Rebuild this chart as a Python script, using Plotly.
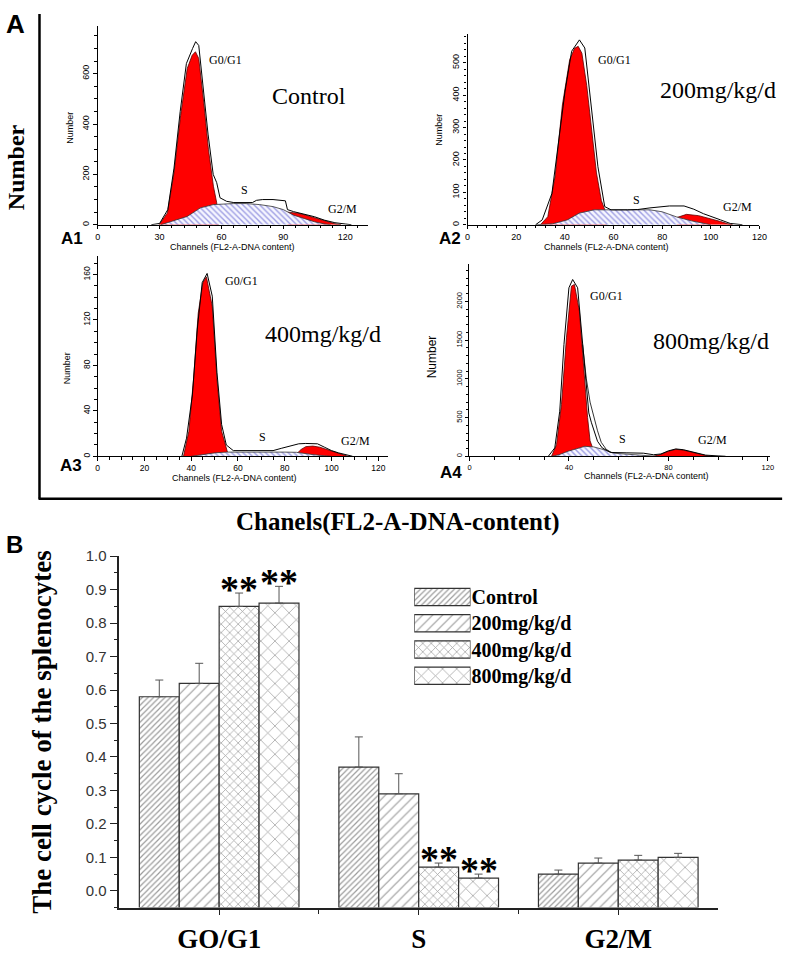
import plotly.graph_objects as go

W, H = 800, 961
SERIF = "Liberation Serif"
SANS = "Liberation Sans"


def fx(p):
    return p / W


def fy(p):
    return 1 - p / H


# ---------------- Panel A data ----------------
# A1  Control
a1_total_x = [26, 30, 34, 37, 40, 43, 46, 47.5, 49, 51, 53.5, 56, 57.7, 59.3, 62.5, 66, 70, 75, 77, 80, 85, 89.5, 91, 92, 95, 100, 105, 110, 115, 120, 123]
a1_total_y = [0, 5, 60, 225, 450, 640, 700, 727, 712, 560, 360, 200, 167, 107, 93, 88, 87, 88, 97, 100, 100, 97, 95, 60, 52, 42, 32, 18, 8, 3, 0]
a1_g1_x = [29.8, 33.8, 37, 40.2, 43.4, 45.8, 47.4, 49, 51.4, 53.7, 56.1, 57.7, 58.5]
a1_g1_y = [0, 47, 207, 433, 620, 673, 687, 660, 487, 300, 153, 87, 0]
a1_s_x = [30.6, 37, 43.4, 49.8, 56.1, 65.7, 72, 78.5, 85, 90, 95, 100, 105, 110, 113]
a1_s_y = [0, 15, 33, 67, 80, 84, 84, 80, 72, 60, 38, 25, 12, 3, 0]
a1_g2_x = [92, 94, 97, 100, 105, 110, 115, 118]
a1_g2_y = [50, 48, 46, 40, 28, 14, 4, 0]

# A2  200 mg/kg/d
a2_total_x = [28, 30.7, 34.7, 37.4, 40.1, 42.8, 46, 48.2, 50.9, 53.6, 56.4, 59, 65.8, 70, 75, 80, 83, 89, 93, 97, 100, 104, 108, 113]
a2_total_y = [0, 15, 97, 260, 413, 536, 571, 546, 362, 179, 56, 46, 46, 47, 52, 56, 58, 58, 48, 34, 25, 15, 4, 0]
a2_g1_x = [30, 33, 36, 39, 42, 44, 45.5, 47, 49, 51, 53, 55, 56.5, 57]
a2_g1_y = [0, 25, 150, 370, 510, 545, 551, 530, 430, 290, 160, 75, 45, 0]
a2_s_x = [28, 35, 41, 46, 52, 75, 80, 86, 92, 97, 100]
a2_s_y = [0, 3, 15, 36, 46, 46, 40, 24, 12, 4, 0]
a2_g2_x = [86, 88, 90, 95, 100, 104, 107, 109]
a2_g2_y = [22, 28, 32, 28, 19, 10, 3, 0]

# A3  400 mg/kg/d
a3_total_x = [36, 38, 40.5, 42.6, 44.7, 46.8, 49, 51, 53, 55, 58, 75, 78.5, 82, 86, 89, 94, 97, 100, 103, 106, 109]
a3_total_y = [0, 16, 54, 112, 153, 161, 141, 74, 28, 10, 5, 5, 7, 9, 11, 11.3, 11, 8, 5, 3, 1.7, 0]
a3_g1_x = [36.7, 39, 41, 43, 45, 46.5, 49, 51, 53, 54.6, 56]
a3_g1_y = [0, 22, 68, 126, 153, 158, 132, 68, 22, 10, 0]
a3_s_x = [40, 45, 50, 55, 60, 70, 80, 85, 88, 92, 97, 100]
a3_s_y = [0, 1.5, 3, 3.7, 3.8, 3.8, 3.7, 3.5, 2.5, 1.5, 0.5, 0]
a3_g2_x = [84, 87, 89, 92, 95, 98, 101, 104, 107]
a3_g2_y = [0, 6, 8.5, 9, 8, 6, 3.5, 1.5, 0]

# A4  800 mg/kg/d
a4_total_x = [31.7, 34.3, 36.3, 38, 40, 41.5, 43.5, 45.5, 47, 48, 49, 50, 51.5, 53.4, 56.7, 63, 70, 74, 77, 80, 83, 86, 89, 92, 95, 100, 103]
a4_total_y = [0, 108, 582, 1444, 2177, 2284, 2177, 1444, 900, 560, 440, 330, 194, 108, 50, 45, 40, 20, 30, 70, 95, 85, 60, 35, 15, 5, 0]
a4_total2_x = [45.5, 47, 48.5, 50, 51.5, 53, 55, 57]
a4_total2_y = [1444, 1000, 700, 500, 330, 180, 90, 50]
a4_g1_x = [33, 35, 37, 39, 41, 42.2, 44.2, 46, 47.5, 48.5, 49.5, 50]
a4_g1_y = [0, 150, 668, 1530, 2198, 2220, 1875, 1100, 500, 200, 110, 0]
a4_s_x = [33, 36, 39.6, 44.9, 46.4, 50, 54, 58, 63, 71, 75]
a4_s_y = [0, 20, 65, 116, 129, 121, 86, 40, 30, 13, 0]
a4_g2_x = [74, 77, 80, 83, 86, 89, 92, 95, 97]
a4_g2_y = [0, 25, 65, 90, 80, 55, 30, 10, 0]

# ---------------- Panel B data ----------------
categories = ["GO/G1", "S", "G2/M"]
groups = ["Control", "200mg/kg/d", "400mg/kg/d", "800mg/kg/d"]
control = [0.58, 0.37, 0.05]
control_err = [0.05, 0.09, 0.012]
dose200 = [0.62, 0.29, 0.083]
dose200_err = [0.06, 0.06, 0.015]
dose400 = [0.85, 0.071, 0.092]
dose400_err = [0.04, 0.012, 0.014]
dose800 = [0.86, 0.038, 0.10]
dose800_err = [0.05, 0.012, 0.012]
significant = [(2, 0), (3, 0), (2, 1), (3, 1)]  # (group, category)

pattern_shapes = ["/", "/", "x", "x"]
pattern_sizes = [4, 7, 6, 10]
pattern_solid = [0.3, 0.17, 0.22, 0.14]

fig = go.Figure()

RED = "#ff0000"
HATCH = dict(shape="\\", fgcolor="#4646c8", bgcolor="#f6f6ff", size=4, solidity=0.35)

panels = [
    ("", a1_g1_x, a1_g1_y, a1_g2_x, a1_g2_y, a1_s_x, a1_s_y, a1_total_x, a1_total_y),
    ("2", a2_g1_x, a2_g1_y, a2_g2_x, a2_g2_y, a2_s_x, a2_s_y, a2_total_x, a2_total_y),
    ("3", a3_g1_x, a3_g1_y, a3_g2_x, a3_g2_y, a3_s_x, a3_s_y, a3_total_x, a3_total_y),
    ("4", a4_g1_x, a4_g1_y, a4_g2_x, a4_g2_y, a4_s_x, a4_s_y, a4_total_x, a4_total_y),
]
for k, g1x, g1y, g2x, g2y, sx, sy, tx, ty in panels:
    xa, ya = "x" + k, "y" + k
    fig.add_trace(go.Scatter(x=g1x, y=g1y, mode="lines", fill="tozeroy", fillcolor=RED,
                             line=dict(color="#5a0000", width=0.8), xaxis=xa, yaxis=ya, showlegend=False))
    fig.add_trace(go.Scatter(x=g2x, y=g2y, mode="lines", fill="tozeroy", fillcolor=RED,
                             line=dict(color="#5a0000", width=0.8), xaxis=xa, yaxis=ya, showlegend=False))
    fig.add_trace(go.Scatter(x=sx, y=sy, mode="lines", fill="tozeroy", fillpattern=HATCH,
                             line=dict(color="#333333", width=0.8), xaxis=xa, yaxis=ya, showlegend=False))
    fig.add_trace(go.Scatter(x=tx, y=ty, mode="lines", line=dict(color="black", width=1),
                             xaxis=xa, yaxis=ya, showlegend=False))
fig.add_trace(go.Scatter(x=a4_total2_x, y=a4_total2_y, mode="lines", line=dict(color="black", width=0.8),
                         xaxis="x4", yaxis="y4", showlegend=False))

# ---------------- Panel B bars ----------------
series = [(control, control_err), (dose200, dose200_err), (dose400, dose400_err), (dose800, dose800_err)]
AX_BOTTOM = -0.05
cat_idx = list(range(len(categories)))
for g, (vals, errs) in enumerate(series):
    fig.add_trace(go.Bar(
        x=cat_idx, y=[v - AX_BOTTOM for v in vals], base=AX_BOTTOM, name=groups[g],
        marker=dict(color="white", line=dict(color="#333333", width=1.2),
                    pattern=dict(shape=pattern_shapes[g], size=pattern_sizes[g], solidity=pattern_solid[g],
                                 fgcolor="#3a3a3a", bgcolor="white")),
        error_y=dict(type="data", array=errs, arrayminus=[0] * len(errs), symmetric=False,
                     color="#555555", thickness=1, width=4),
        xaxis="x5", yaxis="y5", showlegend=False))

# legend drawn as swatches on its own small axis
fig.add_trace(go.Bar(
    x=[1] * len(groups), y=list(range(len(groups))), orientation="h", width=0.66,
    marker=dict(color="white", line=dict(color="#333333", width=1.2),
                pattern=dict(shape=pattern_shapes, size=pattern_sizes, solidity=pattern_solid,
                             fgcolor="#3a3a3a", bgcolor="white")),
    xaxis="x6", yaxis="y6", showlegend=False, hoverinfo="skip"))


def hist_axes(k, xdom, ydom, xr, yr, xdt, xmin, ydt, ymin, fs=9):
    common = dict(showline=True, linecolor="black", linewidth=1.2, ticks="outside", ticklen=3.5,
                  tickwidth=1, tickcolor="black", showgrid=False, zeroline=False, tick0=0,
                  tickfont=dict(family=SANS, size=fs, color="black"), fixedrange=True)
    xa = dict(common, domain=xdom, range=xr, anchor="y" + k, dtick=xdt,
              minor=dict(tick0=0, dtick=xmin, ticks="outside", ticklen=2.5, tickcolor="black"))
    ya = dict(common, domain=ydom, range=yr, anchor="x" + k, dtick=ydt, tickangle=-90,
              minor=dict(tick0=0, dtick=ymin, ticks="outside", ticklen=2.5, tickcolor="black"))
    return xa, ya


ax = {}
ax["xaxis"], ax["yaxis"] = hist_axes("", [fx(96), fx(370)], [fy(218), fy(17)], [0, 131], [0, 790], 30, 6, 200, 50)
ax["xaxis2"], ax["yaxis2"] = hist_axes("2", [fx(471), fx(767)], [fy(218), fy(25)], [0, 120], [0, 590], 20, 4, 100, 20)
ax["xaxis3"], ax["yaxis3"] = hist_axes("3", [fx(96), fx(390)], [fy(452), fy(250)], [0, 124], [0, 176], 20, 5, 40, 10, fs=8.5)
ax["xaxis4"], ax["yaxis4"] = hist_axes("4", [fx(473), fx(778)], [fy(452), fy(258)], [0, 121], [0, 2480], 40, 10, 500, 100, fs=7.5)

B_BOTTOM, B_TOP = 908, 553
ax["xaxis5"] = dict(domain=[fx(118), fx(725)], range=[-0.5, 2.5], anchor="y5", showline=True, linecolor="#222",
                    linewidth=1.5, tickmode="array", tickvals=cat_idx, ticktext=categories, ticks="outside",
                    ticklen=6, tickcolor="#222", showgrid=False, zeroline=False,
                    tickfont=dict(family=SERIF, size=27, color="black", weight="bold"),
                    minor=dict(tickmode="array", tickvals=[0.5, 1.5], ticks="outside", ticklen=5, tickcolor="#222"),
                    fixedrange=True)
ax["yaxis5"] = dict(domain=[fy(B_BOTTOM), fy(B_TOP)], range=[AX_BOTTOM, 1.0], anchor="x5", showline=True,
                    linecolor="#222", linewidth=1.5, tick0=0, dtick=0.1, tickformat=".1f", ticks="outside",
                    ticklen=8, tickcolor="#222", showgrid=False, zeroline=False,
                    tickfont=dict(family=SANS, size=15, color="#333"),
                    minor=dict(tick0=0, dtick=0.05, ticks="outside", ticklen=4, tickcolor="#222"),
                    fixedrange=True)
ax["xaxis6"] = dict(domain=[fx(417), fx(474)], range=[0, 1], anchor="y6", visible=False, fixedrange=True)
ax["yaxis6"] = dict(domain=[fy(687), fy(581)], range=[len(groups) - 0.5, -0.5], anchor="x6", side="right",
                    tickmode="array", tickvals=list(range(len(groups))), ticktext=groups, ticks="",
                    showline=False, showgrid=False, zeroline=False,
                    tickfont=dict(family=SERIF, size=20, color="black", weight="bold"), fixedrange=True)

ann = []


def txt(x, y, s, size, family=SERIF, bold=False, angle=0, color="black"):
    ann.append(dict(x=fx(x), y=fy(y), xref="paper", yref="paper", text=s, showarrow=False,
                    textangle=angle, xanchor="center", yanchor="middle",
                    font=dict(family=family, size=size, color=color, weight="bold" if bold else "normal")))


# panel A global labels
txt(13, 15, "A", 26, SANS, True)
txt(14, 160, "Number", 24, SERIF, True, -90)
txt(401, 518, "Chanels(FL2-A-DNA-content)", 25, SERIF, True)
txt(12, 541, "B", 24, SANS, True)

# sub-panel labels
sub = [
    ((226, 52), "Control", (310, 88), (245, 183), (344, 202), "A1", (70, 232), (233, 240), (68, 120), 9),
    ((620, 52), "200mg/kg/d", (725, 82), (642, 193), (745, 200), "A2", (453, 232), (612, 240), (442, 122), 9),
    ((242, 275), "400mg/kg/d", (324, 328), (263, 432), (357, 437), "A3", (69, 461), (235, 474), (65, 363), 9),
    ((612, 290), "800mg/kg/d", (718, 335), (628, 435), (719, 436), "A4", (454, 468), (652, 472), (435, 352), 12),
]
for g1p, dose, dosep, sp, g2p, tag, tagp, xtp, ytp, yfs in sub:
    txt(*g1p, "G0/G1", 12)
    txt(*dosep, dose, 24)
    txt(*sp, "S", 12)
    txt(*g2p, "G2/M", 12)
    txt(*tagp, tag, 17, SANS, True)
    txt(*xtp, "Channels (FL2-A-DNA content)", 9, SANS)
    txt(*ytp, "Number", yfs, SANS, False, -90)

# y title of panel B
txt(40, 730, "The cell cycle of the splenocytes", 27, SERIF, True, -90)

# significance asterisks
offsets = [-0.3, -0.1, 0.1, 0.3]
for g, c in significant:
    vals, errs = series[g]
    ann.append(dict(x=c + offsets[g], y=vals[c] + errs[c], xref="x5", yref="y5", text="**",
                    showarrow=False, xanchor="center", yanchor="middle", yshift=4,
                    font=dict(family=SERIF, size=38, color="black", weight="bold")))

shapes = [
    dict(type="line", xref="paper", yref="paper", x0=fx(37), x1=fx(37), y0=fy(5), y1=fy(495),
         line=dict(color="black", width=2.5)),
    dict(type="line", xref="paper", yref="paper", x0=fx(36), x1=fx(790), y0=fy(495), y1=fy(495),
         line=dict(color="black", width=2.5)),
]

fig.update_layout(
    width=W, height=H, margin=dict(l=0, r=0, t=0, b=0),
    paper_bgcolor="white", plot_bgcolor="white",
    barmode="group", bargap=0.2, bargroupgap=0,
    annotations=ann, shapes=shapes, showlegend=False,
    **ax,
)

fig.write_html("out.html", config={"displayModeBar": False},
               post_script="document.body.style.margin='0px';")
